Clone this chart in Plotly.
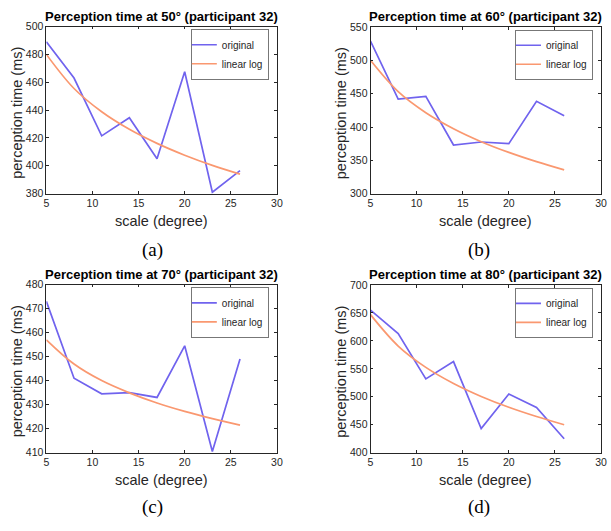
import plotly.graph_objects as go

# ---------------- data ----------------
scale_deg = [5, 8, 11, 14, 17, 20, 23, 26]
angles = ["50°", "60°", "70°", "80°"]
captions = ["(a)", "(b)", "(c)", "(d)"]

orig_50 = [489, 463, 421.5, 434.5, 405, 467.5, 381, 396.5]
fit_50 = [480, 455.5, 438.8, 426.2, 416.1, 407.6, 400.3, 394]

orig_60 = [529, 442, 446, 373, 377.5, 375, 438.5, 417]
fit_60 = [500, 453, 421.4, 397.4, 378, 361.9, 348, 335.6]

orig_70 = [473, 441, 434.5, 435, 433, 454.5, 410.5, 449]
fit_70 = [457, 446.9, 440.0, 434.9, 430.7, 427.2, 424.2, 421.5]

orig_80 = [655, 613, 532, 563, 443, 505, 481, 425]
fit_80 = [647, 590.9, 552.7, 523.9, 500.7, 481.3, 464.7, 450]

originals = [orig_50, orig_60, orig_70, orig_80]
fits = [fit_50, fit_60, fit_70, fit_80]

y_ranges = [[380, 500], [300, 550], [410, 480], [400, 700]]
y_dticks = [20, 50, 10, 50]
x_range = [5, 30]
x_dtick = 5

# ---------------- layout geometry ----------------
W, H = 611, 531
# plot boxes in pixels: (left, right, top, bottom)
boxes = [
    (44, 278, 21, 192),
    (373, 607, 21.5, 192),
    (44, 278, 285, 457),
    (373, 607, 285.5, 457),
]
caption_pos = [(152, 250), (483, 250), (152, 513), (483, 513)]

BLUE = "#7063ee"
ORANGE = "#fa9870"
AXC = "#262626"
FONT = "Liberation Sans, Arial, sans-serif"

fig = go.Figure()
layout = dict(
    width=W, height=H,
    margin=dict(l=0, r=0, t=0, b=0),
    paper_bgcolor="white", plot_bgcolor="white",
    showlegend=True,
    font=dict(family=FONT, size=10, color=AXC),
)
annotations = []

for i in range(4):
    l, r, t, b = boxes[i]
    xa = "xaxis" if i == 0 else f"xaxis{i+1}"
    ya = "yaxis" if i == 0 else f"yaxis{i+1}"
    xr = "x" if i == 0 else f"x{i+1}"
    yr = "y" if i == 0 else f"y{i+1}"
    lg = "legend" if i == 0 else f"legend{i+1}"

    fig.add_trace(go.Scatter(
        x=scale_deg, y=originals[i], mode="lines", name="original",
        line=dict(color=BLUE, width=1.7), xaxis=xr, yaxis=yr, legend=lg,
    ))
    fig.add_trace(go.Scatter(
        x=scale_deg, y=fits[i], mode="lines", name="linear log",
        line=dict(color=ORANGE, width=1.7, shape="spline", smoothing=1.0),
        xaxis=xr, yaxis=yr, legend=lg,
    ))

    common = dict(
        showline=True, linecolor=AXC, linewidth=0.8, mirror="ticks",
        ticks="inside", ticklen=3, tickcolor=AXC, tickwidth=0.8,
        showgrid=False, zeroline=False,
        tickfont=dict(family=FONT, size=10.5, color=AXC),
    )
    layout[xa] = dict(
        domain=[l / W, r / W], anchor=yr, range=x_range, dtick=x_dtick,
        tick0=5, **common,
    )
    layout[ya] = dict(
        domain=[1 - b / H, 1 - t / H], anchor=xr, range=y_ranges[i],
        dtick=y_dticks[i], tick0=y_ranges[i][0], **common,
    )
    layout[lg] = dict(
        x=(r - 8) / W, y=1 - (t + 3) / H, xanchor="right", yanchor="top",
        xref="paper", yref="paper",
        bgcolor="white", bordercolor="#555555", borderwidth=0.8,
        font=dict(family=FONT, size=10, color=AXC),
        itemwidth=30, tracegroupgap=0, indentation=-10,
    )

    cx = (l + r) / 2
    # panel title
    annotations.append(dict(
        text=f"<b>Perception time at {angles[i]} (participant 32)</b>",
        x=cx / W, y=1 - (t - 1) / H, xref="paper", yref="paper",
        xanchor="center", yanchor="bottom", showarrow=False,
        font=dict(family=FONT, size=13, color="black"),
    ))
    # x axis title
    annotations.append(dict(
        text="scale (degree)", x=cx / W, y=1 - (b + 28) / H,
        xref="paper", yref="paper", xanchor="center", yanchor="middle",
        showarrow=False, font=dict(family=FONT, size=14.5, color=AXC),
    ))
    # y axis title
    annotations.append(dict(
        text="perception time (ms)", x=(l - 30) / W, y=1 - ((t + b) / 2 + 3) / H,
        xref="paper", yref="paper", xanchor="center", yanchor="middle",
        textangle=-90, showarrow=False,
        font=dict(family=FONT, size=14.5, color=AXC),
    ))
    # caption
    cxp, cyp = caption_pos[i]
    annotations.append(dict(
        text=captions[i], x=cxp / W, y=1 - cyp / H, xref="paper", yref="paper",
        xanchor="center", yanchor="middle", showarrow=False,
        font=dict(family="Liberation Serif, Times New Roman, serif", size=19, color="black"),
    ))

layout["annotations"] = annotations
fig.update_layout(**layout)
fig.write_html("out.html")
